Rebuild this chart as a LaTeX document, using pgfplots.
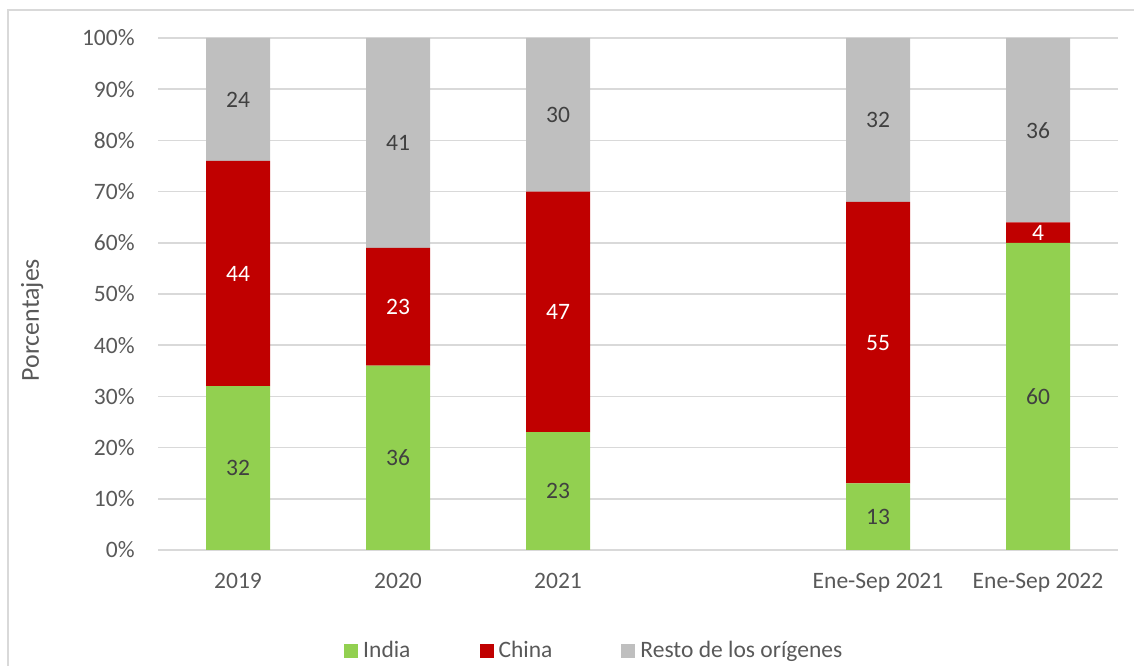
\documentclass[border=0pt]{standalone}
\usepackage{pgfplots}
\pgfplotsset{compat=1.18}
\usepackage{fontspec}
\setmainfont{Carlito}
\definecolor{cIndia}{HTML}{92D050}
\definecolor{cChina}{HTML}{C00000}
\definecolor{cResto}{HTML}{BFBFBF}
\definecolor{txt}{HTML}{595959}
\definecolor{lbl}{HTML}{404040}
\definecolor{gridc}{HTML}{D9D9D9}
\pgfplotsset{sqlegend/.style={legend image code/.code={\fill[##1] (0bp,-3.5bp) rectangle (7bp,3.5bp);}}}
\newcommand{\fs}{\fontsize{11.8}{14}\selectfont}
\begin{document}
\begin{tikzpicture}
\useasboundingbox (0,0) rectangle (567bp,333bp);
\draw[gridc, line width=0.75bp] (4bp,0) -- (4bp,328bp) -- (567bp,328bp);
\begin{axis}[
  at={(79bp,58bp)}, anchor=south west,
  scale only axis, width=480bp, height=256bp,
  ybar stacked, bar width=32bp,
  xmin=-0.5, xmax=5.5, ymin=0, ymax=100,
  xtick={0,1,2,4,5},
  xticklabels={2019,2020,2021,Ene-Sep 2021,Ene-Sep 2022},
  ytick={0,10,20,30,40,50,60,70,80,90,100},
  yticklabels={0\%,10\%,20\%,30\%,40\%,50\%,60\%,70\%,80\%,90\%,100\%},
  /pgf/number format/assume math mode=true,
  major tick length=0pt,
  axis line style={draw=none},
  ymajorgrids, grid style={gridc, line width=0.75bp},
  axis on top=false,
  ticklabel style={font=\fs, text=txt},
  yticklabel style={anchor=east, inner sep=0pt, xshift=-11.5bp},
  xticklabel style={anchor=north, inner sep=0pt, yshift=-11.5bp},
  ylabel={Porcentajes},
  ylabel style={at={(axis description cs:-0.131,0.449)}, anchor=center, font=\fontsize{13}{15}\selectfont, text=txt},
  legend style={at={(0.456,-0.197)}, anchor=center, draw=none, fill=none,
    legend columns=-1, font=\fs, text=txt,
    /tikz/every even column/.append style={column sep=32bp},
    nodes={inner sep=2.5bp}},
]
\addplot[fill=cIndia, draw=none, sqlegend] coordinates {(0,32) (1,36) (2,23) (4,13) (5,60)};
\addplot[fill=cChina, draw=none, sqlegend] coordinates {(0,44) (1,23) (2,47) (4,55) (5,4)};
\addplot[fill=cResto, draw=none, sqlegend] coordinates {(0,24) (1,41) (2,30) (4,32) (5,36)};
\legend{India,China,Resto de los orígenes}
\end{axis}
\begin{axis}[
  at={(79bp,58bp)}, anchor=south west,
  scale only axis, width=480bp, height=256bp,
  xmin=-0.5, xmax=5.5, ymin=0, ymax=100, hide axis,
]
\addplot[draw=none, mark=none, nodes near coords, point meta=explicit symbolic,
  every node near coord/.style={anchor=center, font=\fs, text=lbl}]
  table[meta=l] {
x y l
0 16 32
1 18 36
2 11.5 23
4 6.5 13
5 30 60
0 88 24
1 79.5 41
2 85 30
4 84 32
5 82 36
};
\addplot[draw=none, mark=none, nodes near coords, point meta=explicit symbolic,
  every node near coord/.style={anchor=center, font=\fs, text=white}]
  table[meta=l] {
x y l
0 54 44
1 47.5 23
2 46.5 47
4 40.5 55
5 62 4
};
\end{axis}
\end{tikzpicture}
\end{document}
